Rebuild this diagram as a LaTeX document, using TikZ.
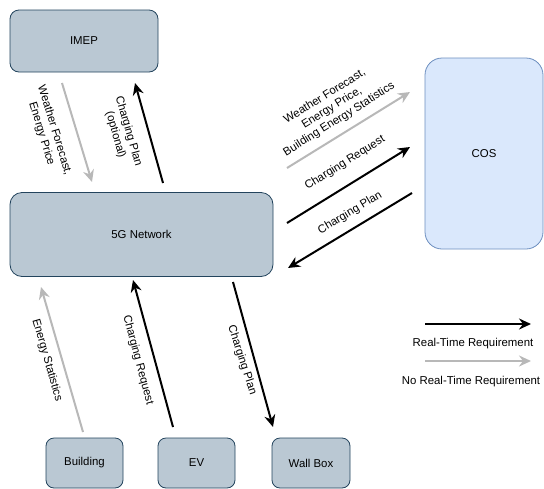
\documentclass[tikz,border=0pt]{standalone}
\usepackage{fontspec}
\setmainfont{Liberation Sans}
\usetikzlibrary{arrows.meta}
\definecolor{boxfill}{HTML}{BAC8D3}
\definecolor{boxline}{HTML}{23445D}
\definecolor{cosfill}{HTML}{DAE8FC}
\definecolor{cosline}{HTML}{6C8EBF}
\definecolor{grayarrow}{HTML}{B8B8B8}
\begin{document}
\begin{tikzpicture}[x=1pt,y=-1pt,
  every node/.style={font=\fontsize{11.4}{13.5}\selectfont, inner sep=0pt},
  rt/.style={line width=2pt, black, -{Stealth[length=12pt,width=11pt,inset=4pt]}},
  nrt/.style={line width=2pt, grayarrow, -{Stealth[length=12pt,width=11pt,inset=4pt]}},
  lbl/.style={align=center}
]
\useasboundingbox (0,0) rectangle (544,488);
% boxes
\node[draw=boxline, fill=boxfill, line width=0.8pt, rounded corners=9pt, minimum width=148pt, minimum height=62pt] (imep) at (84,41) {IMEP};
\node[draw=boxline, fill=boxfill, line width=0.8pt, rounded corners=12pt, minimum width=263pt, minimum height=84pt] (net) at (141.5,234.5) {5G Network};
\node[draw=cosline, fill=cosfill, line width=0.8pt, rounded corners=17pt, minimum width=118pt, minimum height=191pt] (cos) at (484,153.5) {COS};
\node[draw=boxline, fill=boxfill, line width=0.8pt, rounded corners=8pt, minimum width=77pt, minimum height=50pt] (bld) at (84.5,463) {Building};
\node[draw=boxline, fill=boxfill, line width=0.8pt, rounded corners=8pt, minimum width=77pt, minimum height=50pt] (ev) at (196.5,463) {EV};
\node[draw=boxline, fill=boxfill, line width=0.8pt, rounded corners=8pt, minimum width=78pt, minimum height=50pt] (wb) at (311,463) {Wall Box};
% arrow end points
\coordinate (a1s) at (62,83);   \coordinate (a1e) at (92,182);
\coordinate (a2s) at (163,183); \coordinate (a2e) at (135,83);
\coordinate (a3s) at (287,168); \coordinate (a3e) at (410,92);
\coordinate (a4s) at (287,223); \coordinate (a4e) at (410,147);
\coordinate (a5s) at (412,193); \coordinate (a5e) at (288,268);
\coordinate (a6s) at (83,432);  \coordinate (a6e) at (41,287);
\coordinate (a7s) at (173,427); \coordinate (a7e) at (133,280);
\coordinate (a8s) at (233,282); \coordinate (a8e) at (273,427);
\coordinate (l1s) at (425,324); \coordinate (l1e) at (531,324);
\coordinate (l2s) at (425,361); \coordinate (l2e) at (531,361);
% arrows
\draw[nrt] (a1s) -- (a1e);
\draw[rt] (a2s) -- (a2e);
\draw[nrt] (a3s) -- (a3e);
\draw[rt] (a4s) -- (a4e);
\draw[rt] (a5s) -- (a5e);
\draw[nrt] (a6s) -- (a6e);
\draw[rt] (a7s) -- (a7e);
\draw[rt] (a8s) -- (a8e);
\draw[rt] (l1s) -- (l1e);
\draw[nrt] (l2s) -- (l2e);
% labels
\node[lbl, rotate=-73] (t1) at (48,132) {Weather Forecast,\\Energy Price};
\node[lbl, rotate=-74] (t2) at (122,133) {Charging Plan\\(optional)};
\node[lbl, rotate=32] (t3) at (332,108) {Weather Forecast,\\Energy Price,\\Building Energy Statistics};
\node[lbl, rotate=32] (t4) at (345,163) {Charging Request};
\node[lbl, rotate=31] (t5) at (350,213) {Charging Plan};
\node[lbl, rotate=-74] (t6) at (47,360) {Energy Statistics};
\node[lbl, rotate=-75] (t7) at (138,360) {Charging Request};
\node[lbl, rotate=-72] (t8) at (242,360) {Charging Plan};
\node (lg1) at (473,344) {Real-Time Requirement};
\node (lg2) at (471,382) {No Real-Time Requirement};
\end{tikzpicture}
\end{document}
